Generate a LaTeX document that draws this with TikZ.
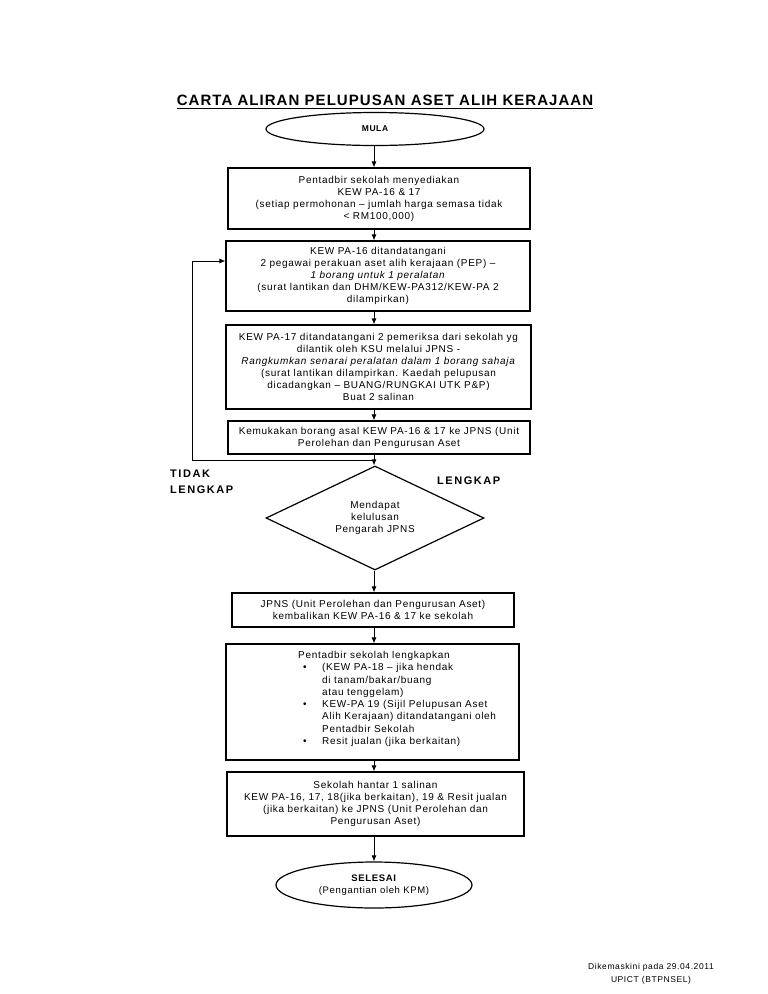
\documentclass[tikz,border=0pt]{standalone}
\usepackage{fontspec}
\setmainfont{Liberation Sans}[LetterSpace=7]
\newfontfamily\titlef{Liberation Sans}[LetterSpace=7]
\newfontfamily\lblf{Liberation Sans}[LetterSpace=14]
\newfontfamily\footf{Liberation Sans}[LetterSpace=7]
\usetikzlibrary{shapes.geometric,arrows.meta}
\newcommand{\bul}{\makebox[24pt][l]{\hspace{5pt}\textbullet}}
\newcommand{\ind}{\hspace*{24pt}}
\begin{document}
\begin{tikzpicture}[x=1pt,y=-1pt,
  box/.style={draw, line width=1.2pt, align=center, inner sep=0pt,
    font=\fontsize{10}{12}\selectfont},
  term/.style={draw, ellipse, line width=1.2pt, inner sep=0pt, align=center},
  arr/.style={-{Latex[length=6pt,width=5pt]}, line width=0.8pt},
  lbl/.style={inner sep=0pt, align=left, font=\fontsize{11}{16}\selectfont\lblf\bfseries}]
\useasboundingbox[fill=white] (0,0) rectangle (768,994);

\node[inner sep=0pt, font=\fontsize{15}{17}\selectfont\titlef\bfseries] (title) at (385,100) {CARTA ALIRAN PELUPUSAN ASET ALIH KERAJAAN};
\draw[line width=1.2pt] ([yshift=-3pt]title.base west) -- ([yshift=-3pt]title.base east);

\node[term, minimum width=218pt, minimum height=33pt, font=\fontsize{8.5}{10}\selectfont\bfseries] (mula) at (375,129) {MULA};

\node[box, minimum width=302pt, minimum height=61pt] (b1) at (379,198.5)
 {Pentadbir sekolah menyediakan\\KEW PA-16 \& 17\\(setiap permohonan – jumlah harga semasa tidak\\< RM100,000)};

\node[box, minimum width=304pt, minimum height=70pt] (b2) at (378,276)
 {KEW PA-16 ditandatangani\\2 pegawai perakuan aset alih kerajaan (PEP) –\\\textit{1 borang untuk 1 peralatan}\\(surat lantikan dan DHM/KEW-PA312/KEW-PA 2\\dilampirkan)};

\node[box, minimum width=305pt, minimum height=84pt] (b3) at (378.5,367)
 {KEW PA-17 ditandatangani 2 pemeriksa dari sekolah yg\\dilantik oleh KSU melalui JPNS -\\\textit{Rangkumkan senarai peralatan dalam 1 borang sahaja}\\(surat lantikan dilampirkan. Kaedah pelupusan\\dicadangkan – BUANG/RUNGKAI UTK P\&P)\\Buat 2 salinan};

\node[box, minimum width=302pt, minimum height=33pt] (b4) at (379,437.5)
 {Kemukakan borang asal KEW PA-16 \& 17 ke JPNS (Unit\\Perolehan dan Pengurusan Aset};

\node[draw, diamond, line width=1.2pt, inner sep=0pt, minimum width=218pt, minimum height=104pt, aspect=2.1, align=center, font=\fontsize{10}{12}\selectfont] (dec) at (375,518)
 {Mendapat\\kelulusan\\Pengarah JPNS};

\node[box, minimum width=282pt, minimum height=34pt] (b5) at (373,610)
 {JPNS (Unit Perolehan dan Pengurusan Aset)\\kembalikan KEW PA-16 \& 17 ke sekolah};

\node[box, minimum width=293pt, minimum height=116pt] (b6) at (372.5,702) {};
\node[inner sep=0pt, anchor=north west, align=left, font=\fontsize{10}{12.3}\selectfont] (b6t) at (298,651)
 {Pentadbir sekolah lengkapkan\\
 \bul(KEW PA-18 – jika hendak\\
 \ind di tanam/bakar/buang\\
 \ind atau tenggelam)\\
 \bul KEW-PA 19 (Sijil Pelupusan Aset\\
 \ind Alih Kerajaan) ditandatangani oleh\\
 \ind Pentadbir Sekolah\\
 \bul Resit jualan (jika berkaitan)};

\node[box, minimum width=297pt, minimum height=64pt] (b7) at (375.5,804)
 {Sekolah hantar 1 salinan\\KEW PA-16, 17, 18(jika berkaitan), 19 \& Resit jualan\\(jika berkaitan) ke JPNS (Unit Perolehan dan\\Pengurusan Aset)};

\node[term, minimum width=196pt, minimum height=46pt, font=\fontsize{9.5}{11.5}\selectfont] (end) at (374,885)
 {\textbf{SELESAI}\\(Pengantian oleh KPM)};

\node[lbl, anchor=base west] (tl) at (170,493) {TIDAK\\LENGKAP};
\node[lbl, anchor=base west] (ll) at (437,484) {LENGKAP};

\node[inner sep=0pt, align=center, font=\fontsize{8.5}{13}\selectfont\footf] (foot) at (651,974) {Dikemaskini pada 29.04.2011\\UPICT (BTPNSEL)};

\coordinate (ax) at (374,0);
\draw[arr] (mula.south -| ax) -- (b1.north -| ax);
\draw[arr] (b1.south -| ax) -- (b2.north -| ax);
\draw[arr] (b2.south -| ax) -- (b3.north -| ax);
\draw[arr] (b3.south -| ax) -- (b4.north -| ax);
\draw[arr] (b4.south -| ax) -- (dec.north -| ax);
\draw[arr] (dec.south -| ax) -- (b5.north -| ax);
\draw[arr] (b5.south -| ax) -- (b6.north -| ax);
\draw[arr] (b6.south -| ax) -- (b7.north -| ax);
\draw[arr] (b7.south -| ax) -- (end.north -| ax);

\coordinate (j) at (374,460);
\coordinate (lc) at (192,460);
\coordinate (lu) at (192,261);
\draw[arr] (j) -- (lc) -- (lu) -- (lu -| b2.west);
\end{tikzpicture}
\end{document}
